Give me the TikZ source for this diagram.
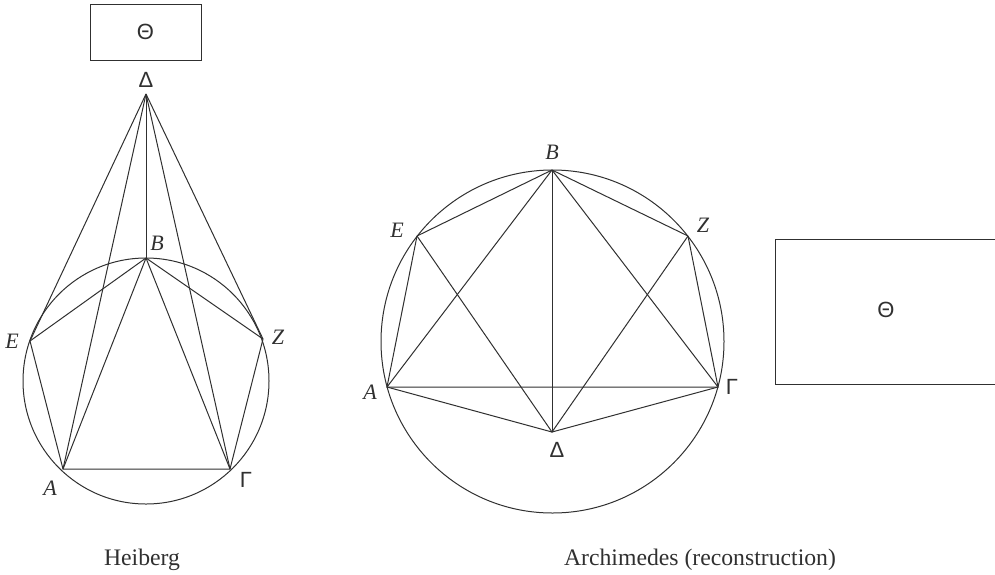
\documentclass[tikz,border=0pt]{standalone}
\usepackage{fontspec}
\setmainfont{Liberation Serif}
\newfontfamily\grk{Liberation Sans}
\definecolor{lc}{HTML}{303030}
\begin{document}
\begin{tikzpicture}[x=1pt,y=-1pt,
  edge/.style={draw=lc, line width=1pt},
  lbl/.style={font=\fontsize{22}{26}\selectfont\itshape, text=lc, inner sep=0pt},
  glbl/.style={font=\grk\fontsize{22}{26}\selectfont, text=lc, inner sep=0pt},
  captxt/.style={font=\fontsize{23.7}{28}\selectfont, text=lc, inner sep=0pt, anchor=base}]
\useasboundingbox (0,0) rectangle (995,574);
\clip (0,0) rectangle (995,574);
% ---------- left figure (Heiberg)
\coordinate (lD) at (146,94);
\coordinate (lB) at (146,258);
\coordinate (lE) at (30,341);
\coordinate (lZ) at (263,339);
\coordinate (lA) at (63,469);
\coordinate (lG) at (230,469);
\coordinate (lO) at (146,381);
\draw[edge] (lO) circle[radius=123];
\node[draw=lc, line width=1pt, minimum width=111pt, minimum height=56pt, inner sep=0pt,
      font=\grk\fontsize{22}{26}\selectfont, text=lc] (lTh) at (145.5,32) {Θ};
\foreach \p in {lE,lA,lB,lG,lZ} \draw[edge] (lD) -- (\p);
\foreach \p in {lE,lA,lG,lZ} \draw[edge] (lB) -- (\p);
\draw[edge] (lE) -- (lA) -- (lG) -- (lZ);
\node[glbl] (lDl) at (146,80) {Δ};
\node[lbl] (lBl) at (157,243) {B};
\node[lbl] (lEl) at (12,341) {E};
\node[lbl] (lZl) at (278,337) {Z};
\node[lbl] (lAl) at (50,488) {A};
\node[glbl] (lGl) at (246,480) {Γ};
\node[captxt] (capL) at (142,565) {Heiberg};
% ---------- right figure (Archimedes)
\coordinate (rB) at (552,170);
\coordinate (rE) at (417,236);
\coordinate (rZ) at (688,236);
\coordinate (rA) at (387,387);
\coordinate (rG) at (718,387);
\coordinate (rD) at (552,432);
\coordinate (rO) at (552.5,341.5);
\draw[edge] (rO) circle[radius=171.5];
\foreach \p in {rE,rZ,rA,rG,rD} \draw[edge] (rB) -- (\p);
\draw[edge] (rE) -- (rA) -- (rG) -- (rZ);
\draw[edge] (rE) -- (rD) -- (rZ);
\draw[edge] (rA) -- (rD) -- (rG);
\node[lbl] (rBl) at (552,152) {B};
\node[lbl] (rEl) at (397,230) {E};
\node[lbl] (rZl) at (703,225) {Z};
\node[lbl] (rAl) at (370,392) {A};
\node[glbl] (rGl) at (732,387) {Γ};
\node[glbl] (rDl) at (557,450) {Δ};
\draw[edge] (775,239) rectangle (1000,384);
\node[glbl] (rTh) at (886,310) {Θ};
\node[captxt] (capR) at (700,565) {Archimedes (reconstruction)};
\end{tikzpicture}
\end{document}
